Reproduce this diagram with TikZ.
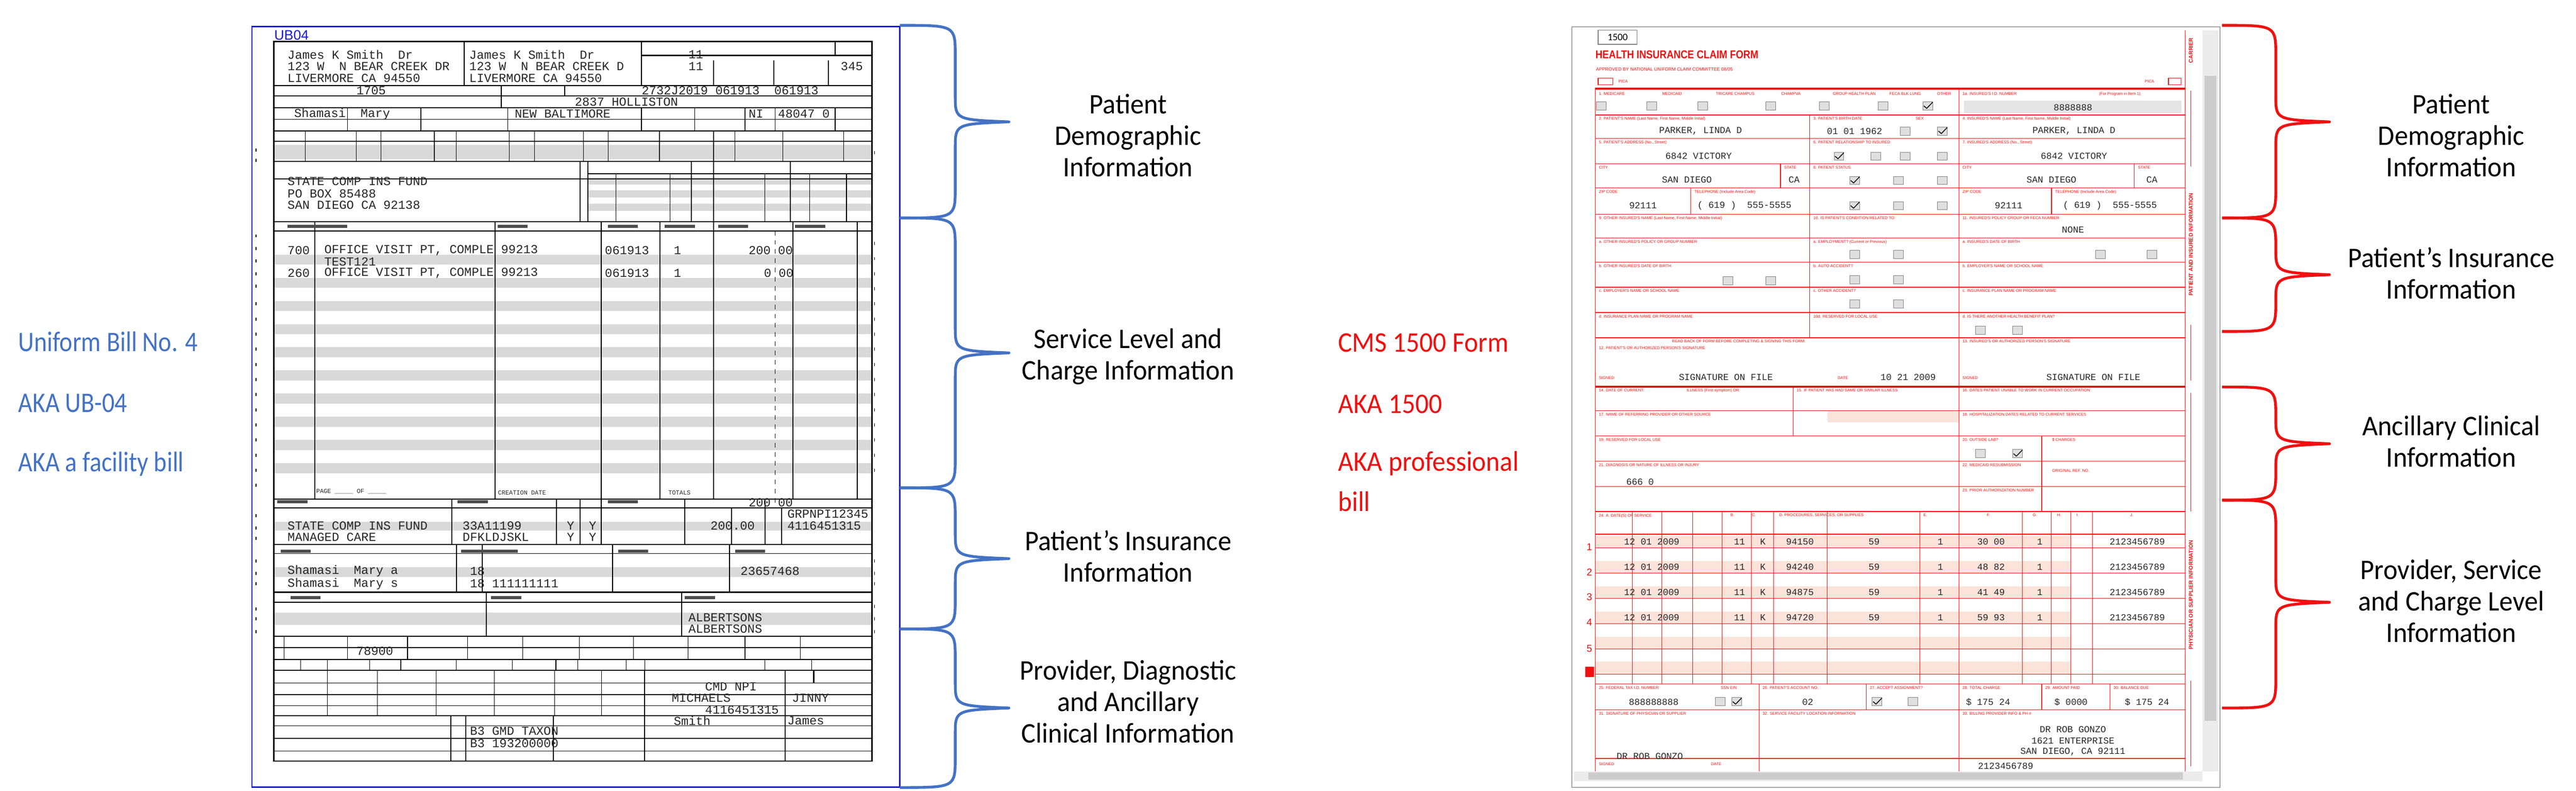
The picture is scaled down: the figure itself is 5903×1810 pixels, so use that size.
\documentclass[tikz,border=0pt]{standalone}
\usepackage{fontspec}
\setmainfont{Carlito}
\newfontfamily\mono{Liberation Mono}
\newfontfamily\lsans{Liberation Sans}
\definecolor{ubblue}{HTML}{4472C4}
\definecolor{frblue}{HTML}{1A1AD0}
\definecolor{fred}{HTML}{F01010}
\definecolor{pinkb}{HTML}{FBE3DA}
\newcommand{\cond}[1]{\scalebox{0.95}[1]{#1}}
\newcommand{\condb}[1]{\scalebox{0.87}[1]{#1}}
\newcommand{\condr}[1]{\scalebox{0.93}[1]{#1}}
\newcommand{\brc}[7]{% L M T top tip bot color
  \draw[#7,line width=1.8pt,line join=round] (#1,#4) .. controls (#2,#4) and (#2,#4) .. (#2,#4+70) -- (#2,#5-60) .. controls (#2,#5-5) .. (#3,#5) .. controls (#2,#5+5) .. (#2,#5+60) -- (#2,#6-70) .. controls (#2,#6) and (#2,#6) .. (#1,#6);}
\begin{document}
\begin{tikzpicture}[x=0.01cm,y=-0.01cm,
  lab/.style={font=\fontsize{18.5}{20.5}\selectfont, align=center, text=black},
  side/.style={font=\fontsize{18.5}{20}\selectfont, anchor=west, inner sep=0},
  ub/.style={font=\mono\fontsize{8}{8}\selectfont, text=black!85, anchor=west, inner sep=0},
  cmt/.style={font=\mono\fontsize{6}{6}\selectfont, text=black!85, anchor=center, inner sep=0},
  tl/.style={font=\lsans\fontsize{2.6}{3}\selectfont, text=fred, anchor=north west, inner sep=0.3pt},
  ubl/.style={black, line width=0.7pt},
  cl/.style={fred, line width=0.45pt},
  cb/.style={draw=gray, fill=gray!25, line width=0.3pt}]
\useasboundingbox (0,0) rectangle (5903,1810);
\fill[white] (0,0) rectangle (5903,1810);

% ================= UB-04 form (zoom coords) =================
\begin{scope}[xscale=1.531, yscale=1.154]
\draw[frblue, line width=0.9pt] (377,53) rectangle (1347,1562);
\node[font=\lsans\fontsize{9}{9}\selectfont, text=frblue, anchor=west, inner sep=0] (ubt) at (410,70) {UB04};
\foreach \y in {505,551,597,643,689,735,781,827,873,919}
  \fill[gray!30] (411,\y) rectangle (1304,\y+20);
\fill[gray!30] (411,287) rectangle (1304,316);
\foreach \y in {352,378,404} \fill[gray!30] (880,\y) rectangle (1304,\y+14);
\fill[gray!30] (411,1035) rectangle (1304,1053);
\fill[gray!30] (411,1125) rectangle (1304,1145);
\fill[gray!30] (411,1215) rectangle (1304,1240);
\draw[ubl, line width=1pt] (410,82) rectangle (1305,1510);
\foreach \y in {170,190,214,260,280,320,440,458,990,1008,1080,1175,1195,1262,1285,1308,1330,1420}
  \draw[ubl] (410,\y) -- (1305,\y);
\foreach \y in {237,355,1098,1355,1378,1400,1440,1465,1490}
  \draw[ubl, line width=0.4pt] (410,\y) -- (1305,\y);
\draw[ubl] (695,82) -- (695,170);
\draw[ubl] (960,82) -- (960,170);
\draw[ubl] (1250,82) -- (1250,110);
\draw[ubl] (1068,120) -- (1068,170);
\draw[ubl] (1158,120) -- (1158,170);
\draw[ubl] (1240,120) -- (1240,170);
\draw[ubl] (960,110) -- (1305,110);
\draw[ubl] (750,170) -- (750,214);
\draw[ubl] (845,170) -- (845,190);
\foreach \x in {520,630,760,960,1040,1115,1160,1250} \draw[ubl,line width=0.4pt] (\x,214) -- (\x,260);
\foreach \x in {457,533,570,650,683,762,800,873,910,987,1068,1100,1172,1263} \draw[ubl,line width=0.4pt] (\x,260) -- (\x,320);
\draw[ubl] (868,320) -- (868,440);
\foreach \x in {880,1035,1068,1183} \draw[ubl] (\x,320) -- (\x,440);
\foreach \x in {922,1003,1145,1212,1267} \draw[ubl,line width=0.4pt] (\x,345) -- (\x,440);
\draw[ubl] (880,345) -- (1305,345);
\foreach \x in {471,741,900,988,1068,1187,1283} \draw[ubl] (\x,440) -- (\x,990);
\draw[ubl, dashed, line width=0.5pt] (1160,458) -- (1160,1008);
\foreach \x in {676,833,868,900,1025,1145} \draw[ubl] (\x,990) -- (\x,1080);
\draw[ubl] (1095,1008) -- (1095,1080);
\draw[ubl] (1170,1008) -- (1170,1080);
\foreach \x in {683,722,917,1092} \draw[ubl] (\x,1080) -- (\x,1175);
\foreach \x in {728,1020} \draw[ubl] (\x,1175) -- (\x,1262);
\foreach \x in {425,520,610,700,782,867,948,1030,1115,1198} \draw[ubl,line width=0.4pt] (\x,1262) -- (\x,1308);
\foreach \x in {450,490,553,600,683,767,832,865,937,965,1145,1215} \draw[ubl,line width=0.4pt] (\x,1308) -- (\x,1330);
\foreach \x in {490,565,653,740,830,900} \draw[ubl,line width=0.4pt] (\x,1330) -- (\x,1420);
\draw[ubl] (965,1330) -- (965,1510);
\draw[ubl] (1175,1330) -- (1175,1510);
\draw[ubl] (1218,1330) -- (1218,1355);
\draw[ubl] (675,1420) -- (675,1510);
\draw[ubl] (697,1420) -- (697,1510);
\draw[ubl] (828,1420) -- (828,1510);
\foreach \y in {295,315,465,490,515,540,565,600,630,660,690,720,750,780,810,840,870,900,930,960,1020,1045,1065,1110,1135,1155,1205,1225,1250}
  \draw[black, line width=0.6pt] (383,\y) -- (383,\y+6);
\foreach \y in {300,480,510,540,570,600,630,660,690,720,750,780,810,840,870,900,930,1110,1135,1155,1200,1225,1250}
  \draw[black, line width=0.6pt] (1309,\y) -- (1309,\y+6);
\foreach \x/\y in {430/449,475/449,745/449,910/449,995/449,1075/449,1190/449,420/1094,690/1094,730/1094,925/1094,1100/1094,435/1186,735/1186,1025/1186,415/995,685/995,910/995}
  \fill[black!70] (\x,\y-3) rectangle (\x+45,\y+3);
\node[ub] (u1) at (430,108) {James K Smith\ \ Dr};
\node[ub] (u2) at (430,132) {123 W\ \ N BEAR CREEK DR};
\node[ub] (u3) at (430,155) {LIVERMORE CA 94550};
\node[ub] (u4) at (702,108) {James K Smith\ \ Dr};
\node[ub] (u5) at (702,132) {123 W\ \ N BEAR CREEK D};
\node[ub] (u6) at (702,155) {LIVERMORE CA 94550};
\node[ub] (u7) at (1030,108) {11};
\node[ub] (u8) at (1030,132) {11};
\node[ub] (u9) at (1258,132) {345};
\node[ub] (u10) at (533,180) {1705};
\node[ub] (u11) at (960,180) {2732J2019 061913\ \ 061913};
\node[ub] (u12) at (860,202) {2837 HOLLISTON};
\node[ub] (u13) at (440,226) {Shamasi\ \ Mary};
\node[ub] (u14) at (770,226) {NEW BALTIMORE};
\node[ub] (u15) at (1120,226) {NI\ \ 48047 0};
\node[ub] (u16) at (430,360) {STATE COMP INS FUND};
\node[ub] (u17) at (430,384) {PO BOX 85488};
\node[ub] (u18) at (430,407) {SAN DIEGO CA 92138};
\node[ub] (u19) at (430,497) {700};
\node[ub] (u20) at (485,497) {OFFICE VISIT PT, COMPLE 99213};
\node[ub] (u21) at (905,497) {061913};
\node[ub] (u22) at (1008,497) {1};
\node[ub] (u23) at (1120,497) {200 00};
\node[ub] (u24) at (485,519) {TEST121};
\node[ub] (u25) at (430,542) {260};
\node[ub] (u26) at (485,542) {OFFICE VISIT PT, COMPLE 99213};
\node[ub] (u27) at (905,542) {061913};
\node[ub] (u28) at (1008,542) {1};
\node[ub] (u29) at (1143,542) {0 00};
\node[ub, font=\mono\fontsize{4}{4}\selectfont] (u30) at (473,975) {PAGE \_\_\_\_\_ OF \_\_\_\_\_};
\node[ub, font=\mono\fontsize{4}{4}\selectfont] (u31) at (745,978) {CREATION DATE};
\node[ub, font=\mono\fontsize{4}{4}\selectfont] (u32) at (1000,978) {TOTALS};
\node[ub] (u33) at (1120,997) {200 00};
\node[ub] (u34) at (430,1043) {STATE COMP INS FUND};
\node[ub] (u35) at (692,1043) {33A11199};
\node[ub] (u36) at (848,1043) {Y\ \ Y};
\node[ub] (u37) at (1063,1043) {200.00};
\node[ub] (u38) at (1178,1020) {GRPNPI12345};
\node[ub] (u39) at (1178,1043) {4116451315};
\node[ub] (u40) at (430,1066) {MANAGED CARE};
\node[ub] (u41) at (692,1066) {DFKLDJSKL};
\node[ub] (u42) at (848,1066) {Y\ \ Y};
\node[ub] (u43) at (430,1133) {Shamasi\ \ Mary a};
\node[ub] (u44) at (703,1133) {18};
\node[ub] (u45) at (1108,1133) {23657468};
\node[ub] (u46) at (430,1158) {Shamasi\ \ Mary s};
\node[ub] (u47) at (703,1158) {18 111111111};
\node[ub] (u48) at (1030,1225) {ALBERTSONS};
\node[ub] (u49) at (1030,1248) {ALBERTSONS};
\node[ub] (u50) at (533,1292) {78900};
\node[ub] (u51) at (1055,1362) {CMD NPI};
\node[ub] (u52) at (1005,1385) {MICHAELS};
\node[ub] (u53) at (1185,1385) {JINNY};
\node[ub] (u54) at (1055,1408) {4116451315};
\node[ub] (u55) at (1008,1430) {Smith};
\node[ub] (u56) at (1178,1430) {James};
\node[ub] (u57) at (703,1450) {B3 GMD TAXON};
\node[ub] (u58) at (703,1475) {B3 193200000};
\end{scope}

% ================= CMS-1500 form (zoom coords) =================
\begin{scope}[shift={(2400,0)}, xscale=2.234, yscale=1.154]
\draw[gray!70, line width=0.6pt] (538,53) rectangle (1203,1562);
\fill[gray!15] (1185,60) rectangle (1201,1530);
\fill[gray!40] (1187,150) rectangle (1199,1430);
\fill[gray!15] (540,1530) rectangle (1185,1550);
\fill[gray!40] (555,1533) rectangle (1165,1547);
\draw[gray, line width=0.5pt] (565,60) rectangle (605,88);
\node[font=\fontsize{6.5}{6.5}\selectfont, inner sep=0] (c1500) at (585,74) {1500};
\node[font=\lsans\bfseries\fontsize{7.4}{7.4}\selectfont, text=fred, anchor=west, inner sep=0] (chead) at (562,108) {\scalebox{0.85}[1]{HEALTH INSURANCE CLAIM FORM}};
\node[tl, font=\lsans\fontsize{3}{3}\selectfont] (capp) at (562,133) {APPROVED BY NATIONAL UNIFORM CLAIM COMMITTEE 08/05};
\node[tl] (cp1) at (585,157) {PICA};
\node[tl] (cp2) at (1125,157) {PICA};
\draw[cl] (565,155) rectangle (580,168);
\draw[cl] (1150,155) rectangle (1163,168);
\foreach \y in {1063,1113,1163,1213,1263,1313} \fill[pinkb] (562,\y) rectangle (1050,\y+24);
\fill[pinkb] (800,815) rectangle (935,838);
\fill[gray!20] (940,200) rectangle (1163,225);
\draw[fred, line width=1.4pt] (562,176) -- (1167,176);
\draw[fred, line width=1.4pt] (562,767) -- (1167,767);
\draw[cl] (562,178) -- (562,1530);
\draw[cl] (1167,60) -- (1167,1530);
\foreach \y in {228,275,325,373,425,472,520,570,620,670,815,865,915,965,1015,1060,1357,1408,1505}
  \draw[cl] (562,\y) -- (1167,\y);
\foreach \y in {1087,1137,1187,1237,1287,1337} \draw[cl, line width=0.25pt] (562,\y) -- (1167,\y);
\draw[cl] (935,178) -- (935,1015);
\draw[cl] (935,1357) -- (935,1530);
\draw[cl] (782,228) -- (782,670);
\draw[cl] (752,325) -- (752,373);
\draw[cl] (660,373) -- (660,425);
\draw[cl] (1115,325) -- (1115,373);
\draw[cl] (1030,373) -- (1030,425);
\draw[cl] (765,767) -- (765,815);
\draw[cl] (765,815) -- (765,865);
\draw[cl] (1020,865) -- (1020,1015);
\foreach \x in {600,630,662,692,722,745,800,895,935,1000,1030,1050,1072} \draw[cl, line width=0.35pt] (\x,1015) -- (\x,1357);
\foreach \x in {730,840,1020,1090} \draw[cl] (\x,1357) -- (\x,1408);
\draw[cl] (730,1408) -- (730,1530);
\foreach \x/\y in {568/210,620/210,672/210,742/210,797/210,857/210,903/210,880/260,918/260,812/310,850/310,880/310,918/310,828/358,873/358,918/358,828/408,873/408,918/408,828/505,873/505,828/555,873/555,828/603,873/603,698/557,742/557,1080/505,1133/505,957/655,995/655,957/900,995/900,690/1392,707/1392,851/1392,888/1392}
  \draw[cb] (\x-5,\y-8) rectangle (\x+5,\y+8);
\foreach \x/\y in {903/210,918/260,812/310,828/358,828/408,707/1392,851/1392,995/900}
  \draw[black, line width=0.5pt] (\x-4,\y) -- (\x-1,\y+5) -- (\x+5,\y-7);
\foreach \x/\y/\t in {565/182/{1. MEDICARE},630/182/{MEDICAID},685/182/{TRICARE CHAMPUS},752/182/{CHAMPVA},805/182/{GROUP HEALTH PLAN},863/182/{FECA BLK LUNG},912/182/{OTHER},938/182/{1a. INSURED'S I.D. NUMBER},1078/182/{(For Program in Item 1)},
  565/231/{2. PATIENT'S NAME (Last Name, First Name, Middle Initial)},785/231/{3. PATIENT'S BIRTH DATE},890/231/{SEX},938/231/{4. INSURED'S NAME (Last Name, First Name, Middle Initial)},
  565/278/{5. PATIENT'S ADDRESS (No., Street)},785/278/{6. PATIENT RELATIONSHIP TO INSURED},938/278/{7. INSURED'S ADDRESS (No., Street)},
  565/328/{CITY},755/328/{STATE},785/328/{8. PATIENT STATUS},938/328/{CITY},1118/328/{STATE},
  565/376/{ZIP CODE},663/376/{TELEPHONE (Include Area Code)},938/376/{ZIP CODE},1033/376/{TELEPHONE (Include Area Code)},
  565/428/{9. OTHER INSURED'S NAME (Last Name, First Name, Middle Initial)},785/428/{10. IS PATIENT'S CONDITION RELATED TO:},938/428/{11. INSURED'S POLICY GROUP OR FECA NUMBER},
  565/475/{a. OTHER INSURED'S POLICY OR GROUP NUMBER},785/475/{a. EMPLOYMENT? (Current or Previous)},938/475/{a. INSURED'S DATE OF BIRTH},
  565/523/{b. OTHER INSURED'S DATE OF BIRTH},785/523/{b. AUTO ACCIDENT?},938/523/{b. EMPLOYER'S NAME OR SCHOOL NAME},
  565/573/{c. EMPLOYER'S NAME OR SCHOOL NAME},785/573/{c. OTHER ACCIDENT?},938/573/{c. INSURANCE PLAN NAME OR PROGRAM NAME},
  565/623/{d. INSURANCE PLAN NAME OR PROGRAM NAME},785/623/{10d. RESERVED FOR LOCAL USE},938/623/{d. IS THERE ANOTHER HEALTH BENEFIT PLAN?},
  640/673/{READ BACK OF FORM BEFORE COMPLETING \& SIGNING THIS FORM.},565/686/{12. PATIENT'S OR AUTHORIZED PERSON'S SIGNATURE},938/673/{13. INSURED'S OR AUTHORIZED PERSON'S SIGNATURE},
  565/770/{14. DATE OF CURRENT:},655/770/{ILLNESS (First symptom) OR},768/770/{15. IF PATIENT HAS HAD SAME OR SIMILAR ILLNESS},938/770/{16. DATES PATIENT UNABLE TO WORK IN CURRENT OCCUPATION},
  565/818/{17. NAME OF REFERRING PROVIDER OR OTHER SOURCE},938/818/{18. HOSPITALIZATION DATES RELATED TO CURRENT SERVICES},
  565/868/{19. RESERVED FOR LOCAL USE},938/868/{20. OUTSIDE LAB?},1030/868/{\$ CHARGES},
  565/918/{21. DIAGNOSIS OR NATURE OF ILLNESS OR INJURY},938/918/{22. MEDICAID RESUBMISSION},1030/930/{ORIGINAL REF. NO.},
  938/968/{23. PRIOR AUTHORIZATION NUMBER},
  565/1018/{24. A.  DATE(S) OF SERVICE},700/1018/{B.},722/1018/{C.},750/1018/{D. PROCEDURES, SERVICES, OR SUPPLIES},898/1018/{E.},963/1018/{F.},1010/1018/{G.},1035/1018/{H.},1055/1018/{I.},1110/1018/{J.},
  565/1360/{25. FEDERAL TAX I.D. NUMBER},690/1360/{SSN EIN},733/1360/{26. PATIENT'S ACCOUNT NO.},843/1360/{27. ACCEPT ASSIGNMENT?},938/1360/{28. TOTAL CHARGE},1023/1360/{29. AMOUNT PAID},1093/1360/{30. BALANCE DUE},
  565/1411/{31. SIGNATURE OF PHYSICIAN OR SUPPLIER},733/1411/{32. SERVICE FACILITY LOCATION INFORMATION},938/1411/{33. BILLING PROVIDER INFO \& PH \#},
  565/1512/{SIGNED},680/1512/{DATE},
  565/745/{SIGNED},810/745/{DATE},938/745/{SIGNED}}
  \node[tl] at (\x,\y) {\t};
\node[font=\lsans\bfseries\fontsize{3.6}{4}\selectfont, text=fred, rotate=90, inner sep=0] (vc) at (1173,100) {CARRIER};
\node[font=\lsans\bfseries\fontsize{3.6}{4}\selectfont, text=fred, rotate=90, inner sep=0] (vp) at (1173,485) {PATIENT AND INSURED INFORMATION};
\node[font=\lsans\bfseries\fontsize{3.6}{4}\selectfont, text=fred, rotate=90, inner sep=0] (vs) at (1173,1180) {PHYSICIAN OR SUPPLIER INFORMATION};
\draw[fred, line width=0.4pt] (1173,180) -- (1173,330);
\draw[fred, line width=0.4pt] (1173,645) -- (1173,755);
\draw[fred, line width=0.4pt] (1173,780) -- (1173,1015);
\draw[fred, line width=0.4pt] (1173,1350) -- (1173,1520);
\foreach \n/\y in {1/1085,2/1135,3/1185,4/1235,5/1287}
  \node[font=\lsans\fontsize{6.5}{6.5}\selectfont, text=fred, inner sep=0] at (556,\y) {\n};
\fill[fred] (552,1323) rectangle (561,1343);
\node[cmt] (d1) at (1052,213) {8888888};
\node[cmt] (d2) at (670,260) {PARKER, LINDA D};
\node[cmt] (d3) at (828,260) {01 01 1962};
\node[cmt] (d4) at (1053,260) {PARKER, LINDA D};
\node[cmt] (d5) at (668,310) {6842 VICTORY};
\node[cmt] (d6) at (1053,310) {6842 VICTORY};
\node[cmt] (d7) at (656,357) {SAN DIEGO};
\node[cmt] (d8) at (766,357) {CA};
\node[cmt] (d9) at (1030,357) {SAN DIEGO};
\node[cmt] (d10) at (1133,357) {CA};
\node[cmt] (d11) at (611,408) {92111};
\node[cmt] (d12) at (715,408) {( 619 )\ \ 555-5555};
\node[cmt] (d13) at (986,408) {92111};
\node[cmt] (d14) at (1090,408) {( 619 )\ \ 555-5555};
\node[cmt] (d15) at (1052,456) {NONE};
\node[cmt] (d16) at (696,748) {SIGNATURE ON FILE};
\node[cmt] (d17) at (883,748) {10 21 2009};
\node[cmt] (d18) at (1073,748) {SIGNATURE ON FILE};
\node[cmt] (d19) at (608,956) {666 0};
\foreach \y/\c/\m/\ch in {1075/94150/59/{30 00},1125/94240/59/{48 82},1175/94875/59/{41 49},1225/94720/59/{59 93}}{
  \node[cmt] at (620,\y) {12 01 2009};
  \node[cmt] at (710,\y) {11};
  \node[cmt] at (734,\y) {K};
  \node[cmt] at (772,\y) {\c};
  \node[cmt] at (848,\y) {\m};
  \node[cmt] at (916,\y) {1};
  \node[cmt] at (968,\y) {\ch};
  \node[cmt] at (1018,\y) {1};
  \node[cmt] at (1118,\y) {2123456789};
}
\node[cmt] (d20) at (622,1393) {888888888};
\node[cmt] (d21) at (780,1393) {02};
\node[cmt] (d22) at (965,1393) {\$ 175 24};
\node[cmt] (d23) at (1050,1393) {\$ 0000};
\node[cmt] (d24) at (1128,1393) {\$ 175 24};
\node[cmt] (d25) at (1052,1447) {DR ROB GONZO};
\node[cmt] (d26) at (1052,1470) {1621 ENTERPRISE};
\node[cmt] (d27) at (1052,1492) {SAN DIEGO, CA 92111};
\node[cmt] (d28) at (618,1500) {DR ROB GONZO};
\node[cmt] (d29) at (983,1520) {2123456789};
\end{scope}

% ================= braces =================
\brc{2062}{2189}{2312}{58}{279}{499}{ubblue}
\brc{2062}{2189}{2312}{499}{808}{1117}{ubblue}
\brc{2062}{2189}{2312}{1117}{1279}{1440}{ubblue}
\brc{2062}{2189}{2312}{1440}{1621}{1803}{ubblue}
\brc{5092}{5215}{5338}{58}{279}{499}{fred}
\brc{5092}{5215}{5338}{499}{629}{759}{fred}
\brc{5092}{5215}{5338}{886}{1016}{1145}{fred}
\brc{5092}{5215}{5338}{1145}{1379}{1621}{fred}

% ================= labels =================
\node[side, text=ubblue] (s1) at (41,782) {\condb{Uniform Bill No. 4}};
\node[side, text=ubblue] (s2) at (41,923) {\condb{AKA UB-04}};
\node[side, text=ubblue] (s3) at (41,1062) {\condb{AKA a facility bill}};
\node[side, text=fred] (r1) at (3066,785) {\condr{CMS 1500 Form}};
\node[side, text=fred] (r2) at (3066,925) {\condr{AKA 1500}};
\node[side, text=fred, align=left] (r3) at (3066,1102) {\condr{AKA professional}\\[6pt]\condr{bill}};

\node[lab] (l1) at (2585,310) {\cond{Patient}\\\cond{Demographic}\\\cond{Information}};
\node[lab] (l2) at (2585,817) {\cond{Service Level and}\\\cond{Charge Information}};
\node[lab] (l3) at (2585,1274) {\cond{Patient's Insurance}\\\cond{Information}};
\node[lab] (l4) at (2585,1606) {\cond{Provider, Diagnostic}\\\cond{and Ancillary}\\\cond{Clinical Information}};
\node[lab] (m1) at (5617,310) {\cond{Patient}\\\cond{Demographic}\\\cond{Information}};
\node[lab] (m2) at (5617,625) {\cond{Patient's Insurance}\\\cond{Information}};
\node[lab] (m3) at (5617,1011) {\cond{Ancillary Clinical}\\\cond{Information}};
\node[lab] (m4) at (5617,1376) {\cond{Provider, Service}\\\cond{and Charge Level}\\\cond{Information}};
\end{tikzpicture}
\end{document}
